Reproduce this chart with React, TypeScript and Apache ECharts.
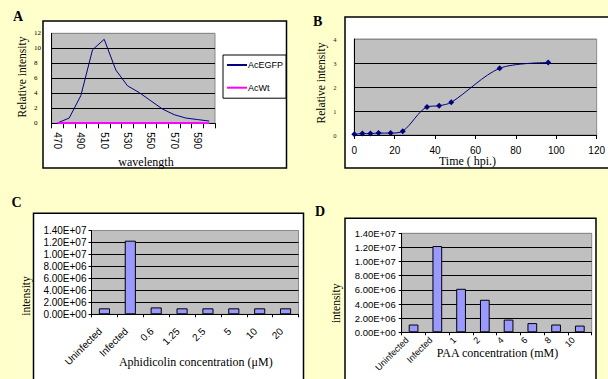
import React, { useEffect, useRef } from "react";
import * as echarts from "echarts";

// ---- Data ----
const wavelengths = ["470", "480", "490", "500", "510", "520", "530", "540", "550", "560", "570", "580", "590", "600"];
const acEGFP = [0.05, 0.7, 3.7, 9.8, 11.2, 7.1, 5.0, 4.1, 3.0, 1.9, 1.15, 0.7, 0.5, 0.3];
const acWt = [0.05, 0.05, 0.05, 0.05, 0.05, 0.05, 0.05, 0.05, 0.05, 0.05, 0.05, 0.05, 0.04, 0.0];

const hpi = [0, 4, 8, 12, 18, 24, 36, 42, 48, 72, 96];
const relIntensity = [0.03, 0.06, 0.06, 0.08, 0.08, 0.16, 1.17, 1.22, 1.36, 2.78, 3.02];

const aphCategories = ["Uninfected", "Infected", "0.6", "1.25", "2.5", "5", "10", "20"];
const aphValues = [1.0e6, 1.23e7, 1.15e6, 1.0e6, 1.0e6, 1.0e6, 1.0e6, 1.0e6];

const paaCategories = ["Uninfected", "Infected", "1", "2", "4", "6", "8", "10"];
const paaValues = [1.1e6, 1.22e7, 6.15e6, 4.6e6, 1.8e6, 1.3e6, 1.1e6, 0.95e6];

const intensityTickLabels = ["0.00E+00", "2.00E+06", "4.00E+06", "6.00E+06", "8.00E+06", "1.00E+07", "1.20E+07", "1.40E+07"];

const SERIF = "'Liberation Serif', 'Times New Roman', serif";
const SANS = "'Liberation Sans', Arial, sans-serif";

export default function App() {
  const ref = useRef<HTMLDivElement>(null);
  useEffect(() => {
    if (!ref.current) return;
    const chart = echarts.init(ref.current, undefined, { renderer: "svg" });

    const black = "#000";
    const intensityFmt = (v: number) => intensityTickLabels[Math.round(v / 2e6)] ?? "";

    const box = (x: number, y: number, w: number, h: number) => ({
      type: "rect",
      z: -10,
      shape: { x, y, width: w, height: h },
      style: { fill: "#fff", stroke: "#000", lineWidth: 1.5 },
    });
    const txt = (text: string, x: number, y: number, size: number, opts: any = {}) => ({
      type: "text",
      z: 50,
      x,
      y,
      rotation: opts.rotation || 0,
      style: {
        text,
        fontSize: size,
        fontFamily: opts.family || SERIF,
        fontWeight: opts.bold ? "bold" : "normal",
        fill: "#000",
        textAlign: opts.align || "center",
        textVerticalAlign: "middle",
      },
    });
    const gridColors = (n: number) => {
      const arr: string[] = [];
      for (let i = 0; i < n; i++) arr.push(i === n - 1 ? "#8a8a8a" : black);
      return arr;
    };

    const option: any = {
      animation: false,
      backgroundColor: "#FFFFCC",
      graphic: [
        box(43, 21, 243.5, 147),
        box(345, 17, 300, 151),
        box(33.5, 213.3, 270, 200),
        box(345, 218.3, 251, 200),
        txt("A", 13, 16, 14, { bold: true, align: "left" }),
        txt("B", 313, 21, 14, { bold: true, align: "left" }),
        txt("C", 11.5, 202, 14, { bold: true, align: "left" }),
        txt("D", 315, 211, 14, { bold: true, align: "left" }),
        txt("Relative intensity", 22, 77, 11.5, { rotation: Math.PI / 2 }),
        txt("wavelength", 146, 161.7, 12),
        txt("Relative intensity", 320.7, 83, 11.5, { rotation: Math.PI / 2 }),
        txt("Time ( hpi.)", 467.5, 161, 12),
        txt("intensity", 25.8, 296, 11.5, { rotation: Math.PI / 2 }),
        txt("Aphidicolin concentration (\u03bcM)", 195.8, 361.7, 12),
        txt("intensity", 336, 303.3, 11.5, { rotation: Math.PI / 2 }),
        txt("PAA concentration (mM)", 497.5, 352.7, 12),
      ],
      legend: {
        left: 223,
        top: 55,
        orient: "vertical",
        itemGap: 13.7,
        itemWidth: 20,
        itemHeight: 2,
        icon: "rect",
        borderColor: "#000",
        borderWidth: 1,
        borderRadius: 0,
        backgroundColor: "#fff",
        padding: [5.5, 3, 6, 4],
        textStyle: { fontSize: 9, fontFamily: SANS, color: "#000", padding: [0, 0, 0, -4] },
        data: ["AcEGFP", "AcWt"],
      },
      grid: [
        { left: 51.7, top: 33.3, width: 163.3, height: 90, show: true, backgroundColor: "#C0C0C0", borderColor: "#8a8a8a", borderWidth: 1 },
        { left: 354.3, top: 39, width: 250.7, height: 96, show: true, backgroundColor: "#C0C0C0", borderColor: "#8a8a8a", borderWidth: 1 },
        { left: 91.5, top: 230.5, width: 207, height: 83.8, show: true, backgroundColor: "#C0C0C0", borderColor: "#8a8a8a", borderWidth: 1 },
        { left: 401.7, top: 233.3, width: 190, height: 99, show: true, backgroundColor: "#C0C0C0", borderColor: "#8a8a8a", borderWidth: 1 },
      ],
      xAxis: [
        {
          gridIndex: 0,
          type: "category",
          data: wavelengths,
          boundaryGap: true,
          axisLine: { lineStyle: { color: black, width: 1 } },
          axisTick: { show: true, interval: 0, length: 5, lineStyle: { color: black } },
          axisLabel: { interval: 1, rotate: -90, fontSize: 10, fontFamily: SANS, color: black, margin: 9 },
          splitLine: { show: false },
        },
        {
          gridIndex: 1,
          type: "value",
          min: 0,
          max: 120,
          interval: 20,
          axisLine: { lineStyle: { color: black, width: 1 } },
          axisTick: { show: true, length: 4, lineStyle: { color: black } },
          axisLabel: { fontSize: 10, fontFamily: SANS, color: black, margin: 10 },
          splitLine: { show: false },
        },
        {
          gridIndex: 2,
          type: "category",
          data: aphCategories,
          axisLine: { lineStyle: { color: black, width: 1 } },
          axisTick: { show: true, interval: 0, length: 3, lineStyle: { color: black } },
          axisLabel: { interval: 0, rotate: 45, fontSize: 10, fontFamily: SANS, color: black, margin: 11, padding: [0, 6, 0, 0] },
          splitLine: { show: false },
        },
        {
          gridIndex: 3,
          type: "category",
          data: paaCategories,
          axisLine: { lineStyle: { color: black, width: 1 } },
          axisTick: { show: true, interval: 0, length: 3, lineStyle: { color: black } },
          axisLabel: { interval: 0, rotate: 45, fontSize: 9, fontFamily: SANS, color: black, margin: 0, padding: [0, 9, 0, 0] },
          splitLine: { show: false },
        },
      ],
      yAxis: [
        {
          gridIndex: 0,
          type: "value",
          min: 0,
          max: 12,
          interval: 2,
          axisLine: { show: true, lineStyle: { color: black } },
          axisTick: { show: false },
          axisLabel: { fontSize: 7, fontFamily: SERIF, color: black, align: "left", margin: 17.7 },
          splitLine: { lineStyle: { color: gridColors(7), width: 1 } },
        },
        {
          gridIndex: 1,
          type: "value",
          min: 0,
          max: 4,
          interval: 1,
          axisLine: { show: true, lineStyle: { color: black } },
          axisTick: { show: false },
          axisLabel: { fontSize: 6.5, fontFamily: SERIF, color: "#222", align: "left", margin: 21 },
          splitLine: { lineStyle: { color: gridColors(5), width: 1 } },
        },
        {
          gridIndex: 2,
          type: "value",
          min: 0,
          max: 1.4e7,
          interval: 2e6,
          axisLine: { show: true, lineStyle: { color: black } },
          axisTick: { show: true, length: 3, lineStyle: { color: black } },
          axisLabel: { fontSize: 10, fontFamily: SANS, color: black, margin: 5, formatter: intensityFmt },
          splitLine: { lineStyle: { color: gridColors(8), width: 1 } },
        },
        {
          gridIndex: 3,
          type: "value",
          min: 0,
          max: 1.4e7,
          interval: 2e6,
          axisLine: { show: true, lineStyle: { color: black } },
          axisTick: { show: true, length: 3, lineStyle: { color: black } },
          axisLabel: { fontSize: 9.5, fontFamily: SANS, color: black, margin: 6, formatter: intensityFmt },
          splitLine: { lineStyle: { color: gridColors(8), width: 1 } },
        },
      ],
      series: [
        {
          name: "AcEGFP",
          type: "line",
          xAxisIndex: 0,
          yAxisIndex: 0,
          data: acEGFP,
          showSymbol: false,
          symbol: "none",
          lineStyle: { color: "#000080", width: 1 },
          itemStyle: { color: "#000080" },
        },
        {
          name: "AcWt",
          type: "line",
          xAxisIndex: 0,
          yAxisIndex: 0,
          data: acWt,
          showSymbol: false,
          symbol: "none",
          lineStyle: { color: "#FF00FF", width: 2 },
          itemStyle: { color: "#FF00FF" },
        },
        {
          name: "Relative intensity",
          type: "line",
          xAxisIndex: 1,
          yAxisIndex: 1,
          data: hpi.map((h, i) => [h, relIntensity[i]]),
          smooth: 0.3,
          symbol: "diamond",
          symbolSize: 6,
          lineStyle: { color: "#000080", width: 1 },
          itemStyle: { color: "#000080" },
        },
        {
          name: "Aphidicolin",
          type: "bar",
          xAxisIndex: 2,
          yAxisIndex: 2,
          data: aphValues,
          barWidth: "43%",
          itemStyle: { color: "#9999FF", borderColor: "#000", borderWidth: 1 },
        },
        {
          name: "PAA",
          type: "bar",
          xAxisIndex: 3,
          yAxisIndex: 3,
          data: paaValues,
          barWidth: "41%",
          itemStyle: { color: "#9999FF", borderColor: "#000", borderWidth: 1 },
        },
      ],
    };
    chart.setOption(option);
    return () => chart.dispose();
  }, []);

  return (
    <div
      ref={ref}
      style={{ position: "absolute", left: 0, top: 0, width: 608, height: 379 }}
    />
  );
}
